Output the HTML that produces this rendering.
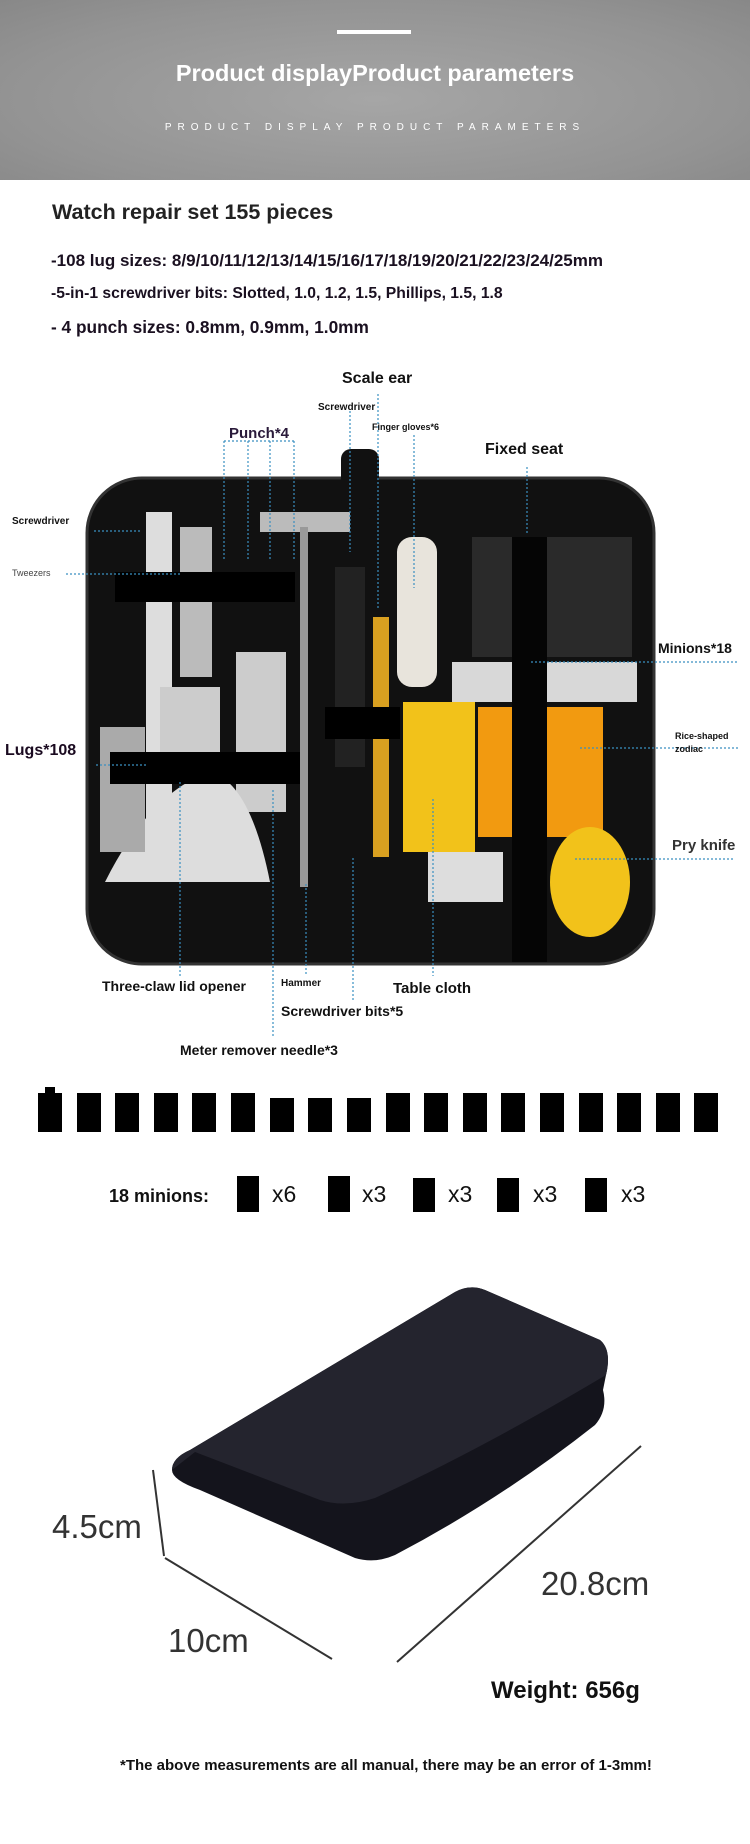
<!DOCTYPE html>
<html><head><meta charset="utf-8"><style>
body{margin:0;width:750px;height:1844px;background:#fff;position:relative;overflow:hidden;font-family:"Liberation Sans",sans-serif}
.t{position:absolute;white-space:nowrap;font-weight:bold;color:#111;line-height:1}
</style></head><body>
<div style="position:absolute;left:0;top:0;width:750px;height:180px;background:radial-gradient(ellipse at 50% 55%,#a6a6a6,#939393 70%,#888)"></div>
<div style="position:absolute;left:337px;top:30px;width:74px;height:4px;background:#fff"></div>
<div class="t" style="left:0;width:750px;text-align:center;top:62px;font-size:23.5px;color:#fff">Product displayProduct parameters</div>
<div class="t" style="left:0;width:750px;text-align:center;top:123px;font-size:10px;color:#fff;font-weight:normal;letter-spacing:6px">PRODUCT DISPLAY PRODUCT PARAMETERS</div>
<div class="t" style="left:52px;top:202px;font-size:21.5px;color:#222">Watch repair set 155 pieces</div>
<div class="t" style="left:51px;top:252px;font-size:17px;color:#1a1020">-108 lug sizes: 8/9/10/11/12/13/14/15/16/17/18/19/20/21/22/23/24/25mm</div>
<div class="t" style="left:51px;top:286px;font-size:15.7px;color:#1a1020">-5-in-1 screwdriver bits: Slotted, 1.0, 1.2, 1.5, Phillips, 1.5, 1.8</div>
<div class="t" style="left:51px;top:319px;font-size:17.3px;color:#1a1020">- 4 punch sizes: 0.8mm, 0.9mm, 1.0mm</div>

<svg style="position:absolute;left:0;top:360px" width="750" height="740">
<rect x="87" y="118" width="567" height="486" rx="55" fill="#111" stroke="#333" stroke-width="3"/>
<rect x="341" y="89" width="38" height="60" rx="10" fill="#111"/>
<rect x="146" y="152" width="26" height="330" fill="#ddd"/>
<rect x="180" y="167" width="32" height="150" fill="#bbb"/>
<rect x="160" y="327" width="60" height="90" fill="#ccc"/>
<rect x="236" y="292" width="50" height="160" fill="#ccc"/>
<path d="M105 522 Q150 432 210 412 Q250 422 270 522 Z" fill="#ddd"/>
<rect x="100" y="367" width="45" height="125" fill="#aaa"/>
<rect x="260" y="152" width="90" height="20" fill="#bbb"/>
<rect x="300" y="167" width="8" height="360" fill="#999"/>
<rect x="335" y="207" width="30" height="200" fill="#222"/>
<rect x="373" y="257" width="16" height="240" fill="#d9a020"/>
<rect x="397" y="177" width="40" height="150" rx="15" fill="#e8e4dc"/>
<rect x="472" y="177" width="160" height="120" fill="#2a2a2a"/>
<rect x="452" y="302" width="185" height="40" fill="#d8d8d8"/>
<rect x="403" y="342" width="72" height="150" fill="#f2c21a"/>
<rect x="478" y="347" width="125" height="130" fill="#f29a10"/>
<rect x="428" y="492" width="75" height="50" fill="#ddd"/>
<ellipse cx="590" cy="522" rx="40" ry="55" fill="#f2c21a"/>
<rect x="115" y="212" width="180" height="30" fill="#000"/>
<rect x="110" y="392" width="190" height="32" fill="#000"/>
<rect x="325" y="347" width="75" height="32" fill="#000"/>
<rect x="512" y="177" width="35" height="425" fill="#050505"/>
<g stroke="#3a8fc0" stroke-width="1.2" stroke-dasharray="2 2" fill="none">
<path d="M94 171 H141 M66 214 H182 M96 405 H147 M224 81 V200 M224 81 H294 M248 81 V200 M270 81 V200 M294 81 V200 M350 51 V192 M378 34 V250 M414 75 V228 M527 107 V175 M531 302 H738 M580 388 H738 M575 499 H735 M180 422 V616 M273 430 V678 M306 524 V616 M353 498 V641 M433 439 V616"/>
</g>
</svg>
<div class="t" style="left:342px;top:371px;font-size:16px">Scale ear</div>
<div class="t" style="left:318px;top:403px;font-size:10px">Screwdriver</div>
<div class="t" style="left:229px;top:426px;font-size:15px;color:#2a1a3a">Punch*4</div>
<div class="t" style="left:372px;top:423px;font-size:9px">Finger gloves*6</div>
<div class="t" style="left:485px;top:442px;font-size:16px">Fixed seat</div>
<div class="t" style="left:12px;top:517px;font-size:10px">Screwdriver</div>
<div class="t" style="left:12px;top:569px;font-size:9px;color:#444;font-weight:normal">Tweezers</div>
<div class="t" style="left:5px;top:743px;font-size:16px;color:#1a0a20">Lugs*108</div>
<div class="t" style="left:658px;top:641px;font-size:14px">Minions*18</div>
<div class="t" style="left:675px;top:730px;font-size:9px;line-height:13px">Rice-shaped<br>zodiac</div>
<div class="t" style="left:672px;top:838px;font-size:15px;color:#333">Pry knife</div>
<div class="t" style="left:102px;top:979px;font-size:14px">Three-claw lid opener</div>
<div class="t" style="left:281px;top:979px;font-size:10px">Hammer</div>
<div class="t" style="left:393px;top:981px;font-size:15px">Table cloth</div>
<div class="t" style="left:281px;top:1004px;font-size:14px">Screwdriver bits*5</div>
<div class="t" style="left:180px;top:1043px;font-size:14px">Meter remover needle*3</div>

<svg style="position:absolute;left:0;top:1080px" width="750" height="764">
<g fill="#000">
<rect x="38" y="13" width="24" height="39"/><rect x="77" y="13" width="24" height="39"/><rect x="115" y="13" width="24" height="39"/><rect x="154" y="13" width="24" height="39"/><rect x="192" y="13" width="24" height="39"/><rect x="231" y="13" width="24" height="39"/><rect x="270" y="18" width="24" height="34"/><rect x="308" y="18" width="24" height="34"/><rect x="347" y="18" width="24" height="34"/><rect x="386" y="13" width="24" height="39"/><rect x="424" y="13" width="24" height="39"/><rect x="463" y="13" width="24" height="39"/><rect x="501" y="13" width="24" height="39"/><rect x="540" y="13" width="24" height="39"/><rect x="579" y="13" width="24" height="39"/><rect x="617" y="13" width="24" height="39"/><rect x="656" y="13" width="24" height="39"/><rect x="694" y="13" width="24" height="39"/>
<rect x="45" y="7" width="10" height="8"/>
<rect x="237" y="96" width="22" height="36"/><rect x="328" y="96" width="22" height="36"/><rect x="413" y="98" width="22" height="34"/><rect x="497" y="98" width="22" height="34"/><rect x="585" y="98" width="22" height="34"/>
</g>
<path d="M172 390 Q172 378 190 370 L455 212 Q470 204 485 210 L600 260 Q612 270 606 295 L603 310 Q608 330 595 345 Q500 420 395 475 Q375 484 355 478 L200 410 Q172 400 172 390 Z" fill="#14141c"/>
<path d="M172 390 Q172 378 190 370 L455 212 Q470 204 485 210 L600 260 Q612 270 606 295 Q480 370 375 418 Q345 428 320 420 L195 372 Z" fill="#24242e"/>
<g stroke="#333" stroke-width="2"><line x1="153" y1="390" x2="164" y2="476"/><line x1="165" y1="478" x2="332" y2="579"/><line x1="397" y1="582" x2="641" y2="366"/></g>
</svg>
<div class="t" style="left:52px;top:1510px;font-size:33px;font-weight:normal;color:#333">4.5cm</div>
<div class="t" style="left:541px;top:1567px;font-size:33px;font-weight:normal;color:#333">20.8cm</div>
<div class="t" style="left:168px;top:1624px;font-size:33px;font-weight:normal;color:#333">10cm</div>
<div class="t" style="left:491px;top:1679px;font-size:24px">Weight: 656g</div>
<div class="t" style="left:120px;top:1758px;font-size:15px">*The above measurements are all manual, there may be an error of 1-3mm!</div>
<div class="t" style="left:109px;top:1187px;font-size:18px">18 minions:</div>
<div class="t" style="left:272px;top:1183px;font-size:23px;font-weight:normal">x6</div>
<div class="t" style="left:362px;top:1183px;font-size:23px;font-weight:normal">x3</div>
<div class="t" style="left:448px;top:1183px;font-size:23px;font-weight:normal">x3</div>
<div class="t" style="left:533px;top:1183px;font-size:23px;font-weight:normal">x3</div>
<div class="t" style="left:621px;top:1183px;font-size:23px;font-weight:normal">x3</div>
</body></html>
